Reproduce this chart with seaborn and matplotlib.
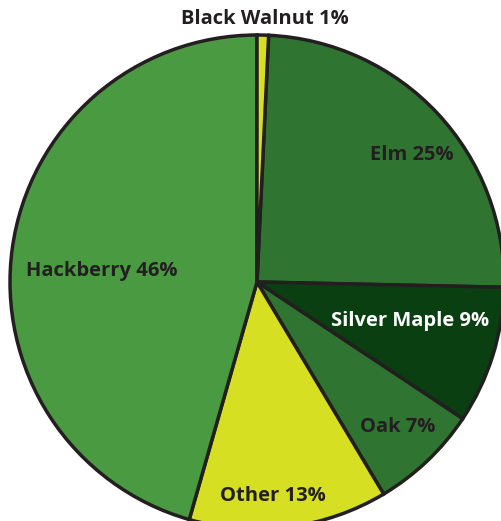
import matplotlib
matplotlib.use("Agg")
import matplotlib.pyplot as plt
import seaborn as sns

# Data (order clockwise from the top)
species = ["Elm", "Silver Maple", "Oak", "Other", "Hackberry", "Black Walnut"]
shares = [24.6, 9.0, 7.1, 13.0, 45.6, 0.75]
shown_pct = [25, 9, 7, 13, 46, 1]
colors = ["#307432", "#0a3f12", "#2f7431", "#d6df22", "#4a9a42", "#d6df22"]
text_colors = ["#231f20", "#ffffff", "#231f20", "#231f20", "#231f20", "#231f20"]
# label positions in pixel coords (x, y from top)
label_pos = [(412, 155), (410, 321), (398, 427), (273, 496), (102, 271), (265, 19)]

sns.set_theme(style="white")
plt.rcParams["font.family"] = ["Open Sans", "DejaVu Sans"]

W, H = 501, 521
fig = plt.figure(figsize=(W / 100, H / 100), dpi=100)
ax = fig.add_axes([0, 0, 1, 1])

ax.pie(shares, colors=colors, startangle=87.3, counterclock=False,
       center=(257, H - 282), radius=247,
       wedgeprops=dict(edgecolor="#231f20", linewidth=2.5, joinstyle="miter"),
       frame=True)
ax.set_xlim(0, W)
ax.set_ylim(0, H)
ax.set_aspect("equal")
ax.axis("off")

for name, p, (px, py), tc in zip(species, shown_pct, label_pos, text_colors):
    ax.text(px, H - py, f"{name} {p}%", ha="center", va="center",
            fontsize=14.5, fontweight="bold", color=tc)

fig.savefig("out.png", dpi=100)
